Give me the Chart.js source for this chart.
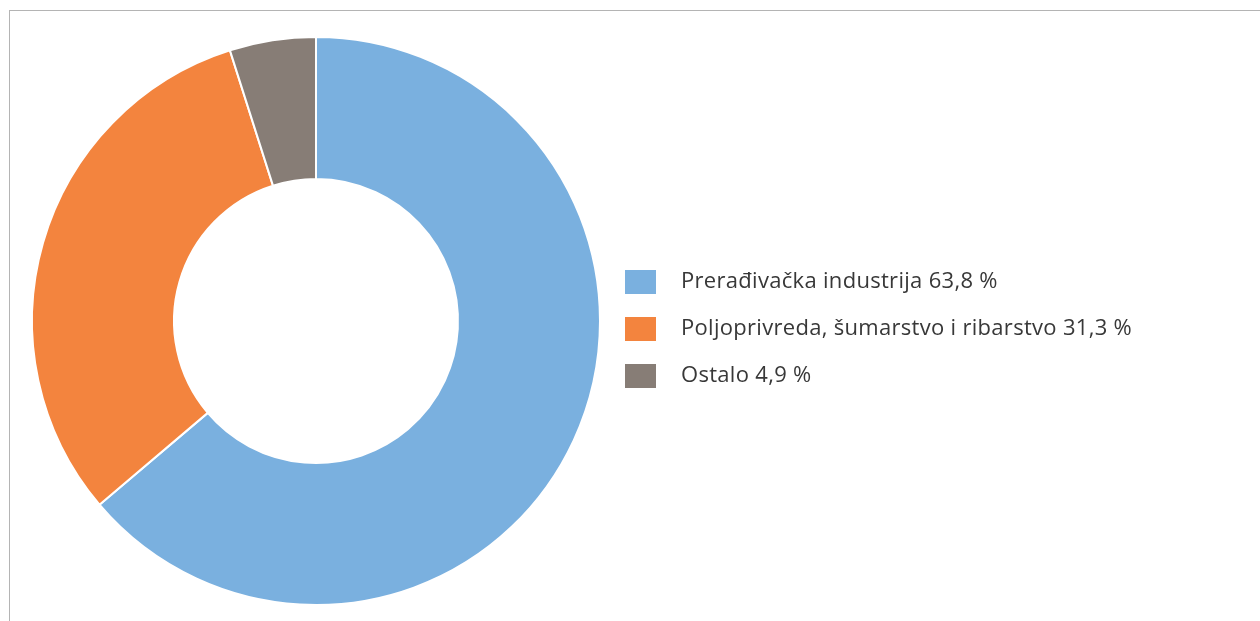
<!DOCTYPE html>
<html>
<head>
<meta charset="utf-8">
<script src="https://cdn.jsdelivr.net/npm/chart.js@4.4.0/dist/chart.umd.min.js"></script>
<style>
  html, body { margin: 0; padding: 0; background: #fff; }
  #wrap { position: relative; width: 1260px; height: 621px; }
  #frame { position: absolute; left: 9px; top: 10px; right: 0; bottom: 0;
           border-top: 1px solid #b4b4b4; border-left: 1px solid #b4b4b4; }
  canvas { position: absolute; left: 0; top: 0; }
</style>
</head>
<body>
<div id="wrap">
  <div id="frame"></div>
  <canvas id="pieChart" width="1260" height="621"></canvas>
</div>
<script>
// Struktura (udio u %)
const labels = ["Prerađivačka industrija", "Poljoprivreda, šumarstvo i ribarstvo", "Ostalo"];
const values = [63.8, 31.3, 4.9];
const colors = ["#7AB0DF", "#F3843E", "#877D76"];

// legenda desno, crtana uz grafikon
const sideLegend = {
  id: "sideLegend",
  afterDraw(chart) {
    const c = chart.ctx;
    const ds = chart.data.datasets[0];
    c.save();
    c.font = "22px 'Open Sans', Lato, sans-serif";
    c.letterSpacing = "0.3px";
    c.textBaseline = "middle";
    chart.data.labels.forEach((lab, i) => {
      const y = 270 + i * 47;
      c.fillStyle = ds.backgroundColor[i];
      c.fillRect(625, y, 31, 24);
      c.fillStyle = "#383838";
      const txt = lab + " " + ds.data[i].toFixed(1).replace(".", ",") + " %";
      c.fillText(txt, 681, y + 12);
    });
    c.restore();
  },
};

const ctx = document.getElementById("pieChart").getContext("2d");
const myChart = new Chart(ctx, {
  type: "doughnut",
  data: {
    labels: labels,
    datasets: [
      {
        data: values,
        backgroundColor: colors,
        borderColor: "#fff",
        borderWidth: 2,
      },
    ],
  },
  options: {
    responsive: false,
    animation: false,
    cutout: "50%",
    layout: { padding: { left: 31, right: 659, top: 36, bottom: 15 } },
    plugins: {
      legend: { display: false },
      tooltip: { enabled: false },
    },
  },
  plugins: [sideLegend],
});
</script>
</body>
</html>
